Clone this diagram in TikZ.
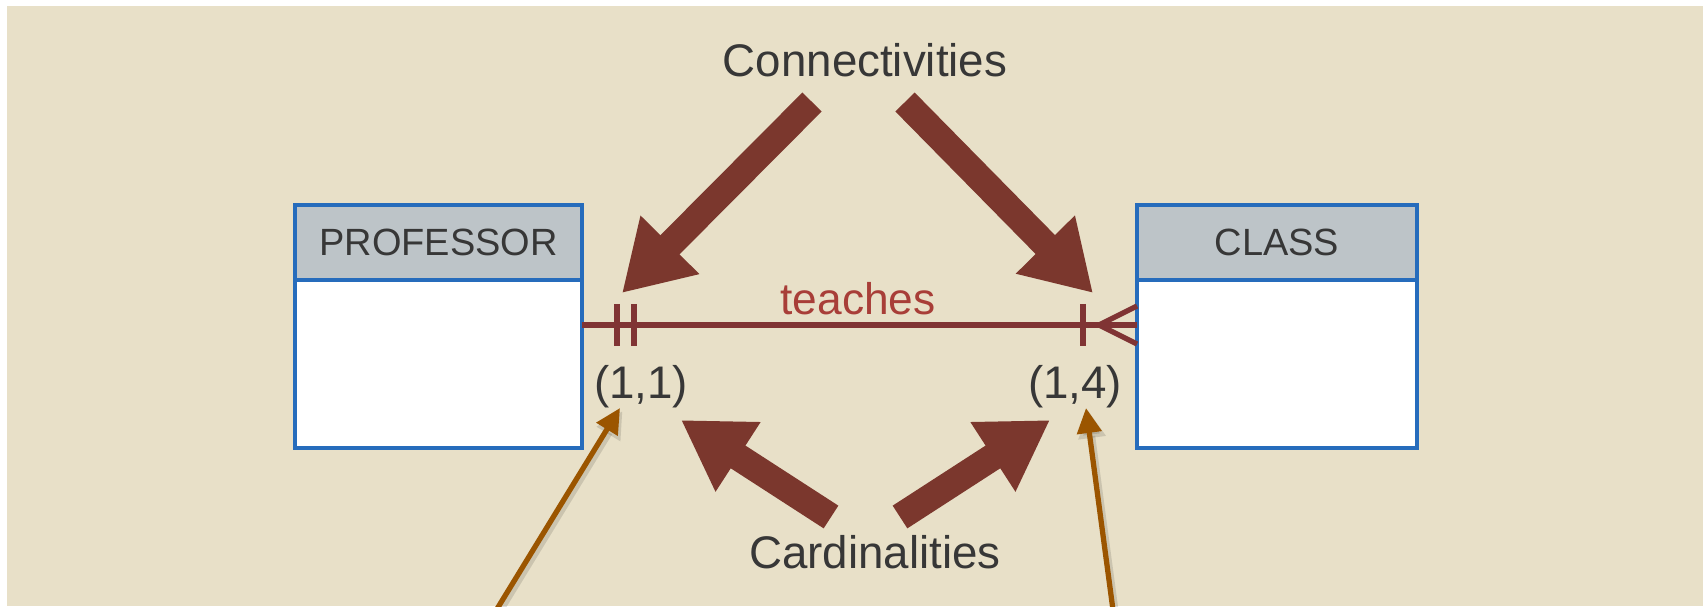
\documentclass[tikz,border=0pt]{standalone}
\usepackage{fontspec}
\setsansfont{Liberation Sans}
\usetikzlibrary{positioning,arrows.meta}
\definecolor{paper}{RGB}{232,224,200}
\definecolor{headgray}{RGB}{189,196,200}
\definecolor{boxblue}{RGB}{38,108,188}
\definecolor{fatbrown}{RGB}{123,55,45}
\definecolor{relred}{RGB}{128,52,52}
\definecolor{labelred}{RGB}{168,62,56}
\definecolor{pointer}{RGB}{155,85,0}
\definecolor{ink}{RGB}{55,55,55}
\tikzset{
  header/.style={draw=boxblue, line width=2.5pt, fill=headgray, inner sep=0pt,
    outer sep=0pt, minimum height=1.5cm, text=ink,
    font=\sffamily\fontsize{21.6}{24}\selectfont},
  body/.style={draw=boxblue, line width=2.5pt, fill=white, inner sep=0pt,
    outer sep=0pt, minimum height=3.36cm},
  relline/.style={draw=relred, line width=3pt},
  tick/.style={draw=relred, line width=3.4pt},
  fatarrow/.style={fatbrown, line width=15.4pt,
    -{Triangle[length=1.36cm,width=1.56cm]}},
  pointer arrow/.style={pointer, line width=3pt,
    -{Triangle[length=.5cm,width=.48cm]}},
  pointer shadow/.style={black, opacity=.12, line width=3.8pt,
    -{Triangle[length=.54cm,width=.52cm]}, transform canvas={shift={(.05cm,-.06cm)}}},
  note/.style={text=ink, font=\sffamily\fontsize{26}{30}\selectfont},
}
\begin{document}
\begin{tikzpicture}[x=.02cm,y=-.02cm]
\useasboundingbox (0,0) rectangle (1703,606);
\clip (0,0) rectangle (1703,606);
\fill[white] (0,0) rectangle (1703,606);
\fill[paper] (7,6) rectangle (1703,606);
% Entity boxes
\node[header, minimum width=5.74cm] (prof) at (438.5,242.5) {PROFESSOR};
\node[body, minimum width=5.74cm, below=0pt of prof] (profbody) {};
\node[header, minimum width=5.6cm] (class) at (1277,242.5) {CLASS};
\node[body, minimum width=5.6cm, below=0pt of class] (classbody) {};
% Relationship line with its end marks
\coordinate (relL) at ([yshift=-.9cm]profbody.north east);
\coordinate (relR) at ([yshift=-.9cm]classbody.north west);
\draw[relline] (relL) -- (relR);
\foreach \dx in {.7,1.04}
  \draw[tick] ([xshift=\dx cm,yshift=.42cm]relL) -- ([xshift=\dx cm,yshift=-.42cm]relL);
\draw[tick] ([xshift=-1.08cm,yshift=.42cm]relR) -- ([xshift=-1.08cm,yshift=-.42cm]relR);
\draw[relline] ([yshift=.38cm]relR) -- ([xshift=-.76cm]relR) -- ([yshift=-.38cm]relR);
\node[text=labelred, font=\sffamily\fontsize{25.2}{28}\selectfont] (teach) at (858,299) {teaches};
% Labels
\node[note] (conn) at (865,60) {Connectivities};
\node[note] (card) at (875,552) {Cardinalities};
\node[note] (oneone) at (641,387) {(1,1)};
\node[note] (onefour) at (1075,387) {(1,4)};
% Connectivity arrows
\coordinate (connL) at (812,102);
\coordinate (connR) at (905,102);
\coordinate (markL) at (622,293);
\coordinate (markR) at (1093,293);
\draw[fatarrow] (connL) -- (markL);
\draw[fatarrow] (connR) -- (markR);
% Cardinality arrows
\coordinate (cardL) at (831,517);
\coordinate (cardR) at (900,517);
\coordinate (pairL) at (681,420);
\coordinate (pairR) at (1050,420);
\draw[fatarrow] (cardL) -- (pairL);
\draw[fatarrow] (cardR) -- (pairR);
% Pointers coming up from below
\coordinate (lowL) at (478,640);
\coordinate (lowR) at (1117,640);
\coordinate (tipL) at (620,408);
\coordinate (tipR) at (1086,408);
\draw[pointer shadow] (lowL) -- (tipL);
\draw[pointer shadow] (lowR) -- (tipR);
\draw[pointer arrow] (lowL) -- (tipL);
\draw[pointer arrow] (lowR) -- (tipR);
\end{tikzpicture}
\end{document}
